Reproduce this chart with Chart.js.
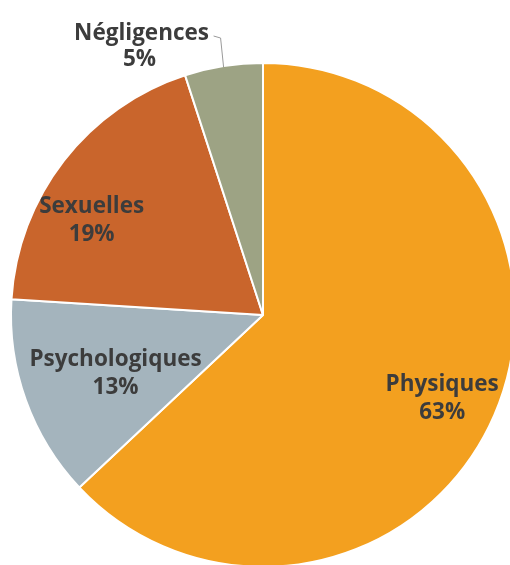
<!DOCTYPE html>
<html>
<head>
<meta charset="utf-8">
<script src="https://cdn.jsdelivr.net/npm/chart.js@4"></script>
<style>
  html, body { margin: 0; padding: 0; background: #fff; overflow: hidden; }
  #wrap { width: 526px; height: 630px; }
</style>
</head>
<body>
<div id="wrap"><canvas id="pie"></canvas></div>
<script>
const categories = ["Physiques", "Psychologiques", "Sexuelles", "Négligences"];
const values = [63, 13, 19, 5];
const labelsPct = ["63%", "13%", "19%", "5%"];
const colors = ["#F3A01F", "#A4B4BD", "#C9652C", "#9DA384"];

// label centres, as fractions of the radius from the pie centre
const labelPos = [[0.711, 0.332], [-0.585, 0.233], [-0.68, -0.375], [-0.482, -1.067]];

const labelPlugin = {
  id: "sliceLabels",
  afterDatasetsDraw(chart) {
    const c = chart.ctx;
    const arcs = chart.getDatasetMeta(0).data;
    c.save();
    c.fillStyle = "#3c3c3c";
    c.textAlign = "center";
    c.textBaseline = "middle";
    c.font = "bold 22.5px 'Open Sans', Lato, sans-serif";
    arcs.forEach((arc, i) => {
      const r = arc.outerRadius;
      const x = arc.x + labelPos[i][0] * r;
      const y = arc.y + labelPos[i][1] * r;
      if (i === 3) {
        // outside label, leader line from the slice edge
        const mid = (arc.startAngle + arc.endAngle) / 2;
        const px = arc.x + Math.cos(mid) * r;
        const py = arc.y + Math.sin(mid) * r;
        c.strokeStyle = "#9a9a9a";
        c.lineWidth = 1;
        c.beginPath();
        c.moveTo(px, py + 1);
        c.lineTo(px - 3, 38);
        c.lineTo(px - 10, 36);
        c.stroke();
        c.fillText(categories[i], x, y - 13);
        c.fillText(labelsPct[i], x - 2, y + 13);
      } else {
        c.fillText(categories[i], x, y - 14);
        c.fillText(labelsPct[i], x, y + 14);
      }
    });
    c.restore();
  }
};

new Chart(document.getElementById("pie"), {
  type: "pie",
  data: {
    labels: categories,
    datasets: [{
      data: values,
      backgroundColor: colors,
      borderColor: "#ffffff",
      borderWidth: 2
    }]
  },
  options: {
    responsive: true,
    maintainAspectRatio: false,
    animation: false,
    layout: { padding: { left: 10, top: 62, right: 10, bottom: 62 } },
    plugins: { legend: { display: false }, tooltip: { enabled: false } }
  },
  plugins: [labelPlugin]
});
</script>
</body>
</html>
